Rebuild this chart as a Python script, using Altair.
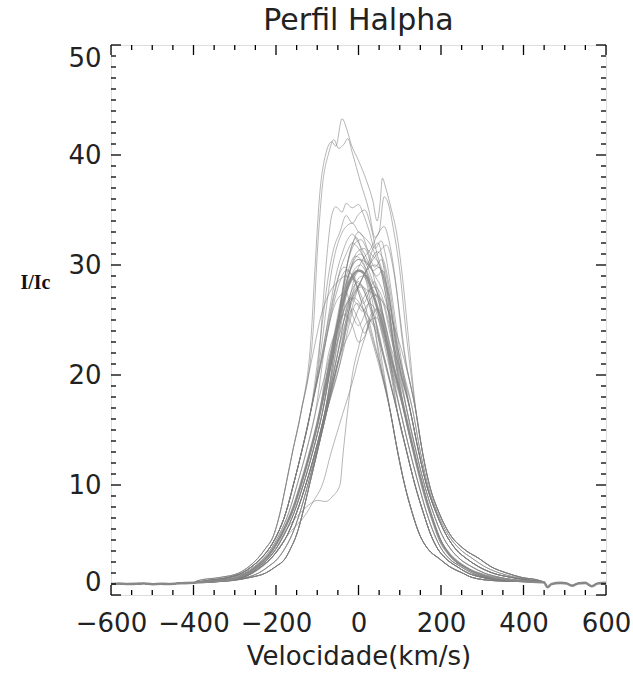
import altair as alt
import pandas as pd

# ---------------- data ----------------
# intensity levels at which each profile flank was read (I/Ic)
LEVELS = [1.3, 1.6, 2.0, 2.6, 3.3, 4.2, 5.5, 7.5, 10, 13, 16.5]

# left-flank velocities (km/s) where profiles cross LEVELS
LEFT_A = [-390, -335, -290, -265, -245, -226, -205, -190, -176, -160, -140]
LEFT_B = [-370, -315, -282, -258, -237, -217, -197, -176, -158, -138, -117]
LEFT_BC = [-355, -305, -276, -252, -231, -212, -192, -169, -149, -127, -105]
LEFT_C = [-340, -293, -270, -247, -226, -207, -187, -162, -140, -117, -94]
LEFT_CD = [-335, -287, -264, -241, -219, -200, -180, -156, -134, -111, -88]
LEFT_D = [-330, -280, -258, -235, -213, -193, -172, -150, -128, -105, -82]
LEFT_DE = [-320, -271, -242, -218, -196, -179, -161, -142, -123, -102, -80]
LEFT_E = [-310, -262, -225, -200, -178, -165, -150, -135, -119, -100, -78]
LEFT_S1 = [-330, -285, -262, -238, -218, -200, -182, -140, -45, -37, -27]
LEFT_S2 = [-325, -280, -255, -232, -212, -195, -170, -125, -88, -66, -38]

# right-flank velocities (km/s) where profiles cross LEVELS
RIGHT_A = [440, 395, 359, 320, 293, 255, 222, 195, 172, 155, 140]
RIGHT_AB = [430, 382, 342, 305, 277, 245, 217, 191, 168, 150, 133]
RIGHT_B = [420, 370, 325, 290, 262, 235, 212, 188, 165, 146, 127]
RIGHT_BC = [398, 343, 305, 273, 245, 223, 202, 181, 160, 140, 119]
RIGHT_C = [375, 317, 285, 256, 228, 211, 193, 174, 155, 134, 112]
RIGHT_CD = [368, 308, 275, 247, 220, 201, 184, 165, 146, 125, 103]
RIGHT_D = [360, 300, 265, 238, 212, 192, 175, 157, 137, 117, 95]
RIGHT_E = [330, 275, 252, 220, 196, 168, 148, 130, 112, 95, 78]

# common continuum wings
WING_L_V = [-600, -580, -560, -540, -520, -500, -480, -460, -440, -420, -400]
WING_L_Y = [1.0, 1.04, 1.0, 1.02, 1.05, 0.98, 1.02, 1.0, 1.05, 1.08, 1.12]
WING_R_V = [450, 458, 468, 490, 505, 518, 532, 550, 565, 580, 600]
WING_R_Y = [1.15, 0.7, 1.0, 1.1, 1.05, 0.85, 1.05, 1.1, 0.8, 1.05, 1.1]

# profile tops (velocity, I/Ic)
TOP_01 = [(-114, 24), (-105, 30), (-95, 36), (-80, 40), (-65, 41.2), (-55, 40.8), (-40, 43.3), (-28, 42.3),
          (-18, 41), (0, 39.5), (20, 37.6), (35, 35.8), (45, 34), (52, 35.5), (58, 37.9), (66, 37),
          (80, 35), (92, 33), (108, 28.4), (120, 23.8)]
TOP_02 = [(-110, 24), (-100, 31), (-88, 37), (-72, 40.2), (-60, 41.4), (-48, 40.6), (-35, 41), (-26, 41.5),
          (-15, 40.2), (5, 37.5), (25, 35), (40, 32.5), (50, 33), (62, 36.2), (72, 35.6), (85, 33.2),
          (100, 29.5), (115, 24)]
TOP_03 = [(-95, 22), (-85, 27), (-75, 31.5), (-65, 34.5), (-55, 35.3), (-40, 34.8), (-30, 35.6), (-15, 35.2),
          (0, 35.5), (12, 34.6), (25, 33.2), (40, 31.5), (55, 32.2), (65, 31), (80, 27.5), (95, 23.5)]
TOP_04 = [(-90, 24), (-75, 28.5), (-60, 31.5), (-45, 33), (-30, 34.5), (-15, 33.8), (0, 34.6), (15, 35),
          (30, 33.5), (45, 31), (60, 29.2), (75, 27), (90, 23.5)]
TOP_05 = [(-70, 21.5), (-50, 25), (-30, 27.5), (-10, 29), (10, 30.5), (30, 31.5), (50, 33), (62, 33.5),
          (75, 32), (90, 28.5), (105, 23.5)]
TOP_06 = [(-55, 23), (-40, 27), (-25, 30.5), (-12, 32.2), (0, 33), (12, 32.5), (25, 31), (40, 29.8),
          (55, 30.5), (70, 28.5), (85, 24.5)]
TOP_07 = [(-60, 22.5), (-45, 26), (-30, 29.5), (-18, 31.5), (-5, 32.5), (8, 31.2), (20, 30), (35, 31.5),
          (48, 32), (60, 30), (75, 26), (85, 22.5)]
TOP_08 = [(-80, 23), (-60, 27), (-45, 29.5), (-30, 31), (-15, 32), (0, 31.5), (15, 30.5), (30, 29),
          (45, 27.5), (60, 26.5), (75, 24), (90, 21.5)]
TOP_09 = [(-45, 24.5), (-30, 27.8), (-15, 30.2), (0, 31.3), (15, 31.5), (30, 30), (45, 27.5), (60, 24.5)]
TOP_10 = [(-55, 23.5), (-40, 26.5), (-25, 29), (-10, 30.5), (5, 31), (20, 30.3), (35, 29.5), (50, 29.8),
          (65, 27.5), (80, 23.5)]
TOP_11 = [(-55, 24), (-35, 27.5), (-15, 30), (0, 30.5), (15, 29.8), (35, 27.5), (55, 24.5), (70, 22)]
TOP_12 = [(-45, 24), (-25, 28), (-10, 29.6), (5, 30), (20, 29.2), (35, 27.8), (50, 26.5), (65, 24),
          (80, 21.5)]
TOP_13 = [(-40, 22.5), (-20, 25.5), (0, 28), (20, 29.5), (40, 30), (55, 29.5), (70, 27), (85, 23)]
TOP_14 = [(-80, 23), (-60, 26.5), (-45, 28.5), (-30, 29.5), (-15, 29), (0, 27.5), (15, 25.5), (30, 23.5),
          (45, 21.5)]
TOP_15 = [(-35, 23.5), (-20, 26.5), (-5, 28.5), (10, 29), (25, 28), (40, 25.5), (52, 22.5)]
TOP_16 = [(-55, 23.5), (-40, 26), (-25, 28.5), (-12, 29), (0, 27.5), (12, 26.5), (25, 27.5), (38, 28.5),
          (52, 27), (65, 24), (78, 21)]
TOP_17 = [(-45, 23), (-30, 26), (-15, 27.8), (0, 28.5), (15, 27.5), (30, 26), (45, 24.5), (60, 22)]
TOP_18 = [(-40, 22), (-25, 25.5), (-10, 27.5), (5, 28), (20, 27), (35, 25), (50, 22)]
TOP_19 = [(-48, 21.5), (-20, 24), (0, 26), (20, 27.5), (40, 28), (58, 27), (75, 24.5), (90, 22)]
TOP_20 = [(-82, 22.5), (-65, 25.5), (-45, 27.2), (-30, 27.5), (-15, 25.5), (0, 24.5), (15, 25.5), (30, 27),
          (45, 27.3), (60, 25.5), (75, 23), (90, 21)]
TOP_21 = [(-55, 23), (-38, 25.5), (-20, 27), (-5, 26.5), (10, 25.8), (25, 26.5), (40, 26), (55, 24),
          (70, 21.5)]
TOP_22 = [(-35, 22.5), (-20, 25), (-5, 26.5), (10, 26), (25, 24.5), (40, 22.5), (52, 21)]
TOP_23 = [(-45, 22), (-30, 24.5), (-15, 26), (0, 25), (15, 23.8), (30, 25.5), (45, 26), (60, 24.5),
          (72, 22)]
TOP_24 = [(-75, 21.5), (-55, 24), (-35, 25.5), (-15, 24.5), (0, 23), (15, 23.5), (30, 25), (45, 25.2),
          (60, 23.5), (75, 21.5)]
TOP_25 = [(-120, 8.2), (-100, 8.6), (-80, 8.5), (-62, 9.0), (-15, 20), (0, 22.5), (15, 24.5), (30, 25),
          (45, 24), (60, 22)]
TOP_26 = [(-108, 8.6), (-10, 20), (0, 21.5), (19, 23.8), (35, 25.5), (50, 26), (65, 24.5), (80, 22)]
TOP_27 = [(-60, 23), (-40, 27), (-20, 29.5), (0, 30.5), (20, 30.2), (40, 29), (60, 27.5), (80, 24.5),
          (95, 21.5)]
TOP_28 = [(-35, 24), (-20, 27.2), (-5, 29.2), (8, 29.5), (22, 28), (38, 24.5), (50, 21.5)]
TOP_29 = [(-85, 22.5), (-70, 26), (-55, 29), (-40, 31), (-28, 32.2), (-15, 32.8), (0, 32), (15, 31),
          (30, 29.8), (45, 29), (58, 29.5), (72, 27.5), (88, 23.5)]
TOP_30 = [(-55, 22.5), (-35, 25), (-15, 27), (5, 28.5), (25, 30), (45, 31.2), (60, 30.5), (75, 28),
          (90, 24), (100, 21.5)]
TOP_31 = [(-60, 23.5), (-42, 27), (-25, 29.5), (-8, 30.8), (10, 30.3), (28, 28.8), (45, 27.5), (62, 25),
          (78, 22)]
TOP_32 = [(-88, 22), (-70, 25.5), (-52, 28.5), (-35, 29.8), (-18, 29.2), (0, 27.8), (18, 26), (35, 23.5),
          (48, 21.5)]
TOP_33 = [(-52, 24), (-38, 28), (-22, 30.8), (-8, 32), (6, 32.3), (20, 31.5), (35, 30.8), (50, 30),
          (65, 27.5), (80, 24)]
TOP_34 = [(-48, 22.5), (-30, 25.8), (-12, 27.6), (5, 28.2), (22, 27.2), (40, 25), (58, 22)]
TOP_35 = [(-50, 22), (-30, 25), (-10, 27.2), (10, 28.8), (30, 30.2), (50, 31.2), (68, 31.8), (85, 29.5),
          (100, 25.5), (112, 22)]
TOP_36 = [(-62, 22), (-45, 24.8), (-28, 26.5), (-10, 27), (8, 26.2), (25, 25.2), (42, 24), (58, 22)]
TOP_37 = [(-90, 22.5), (-75, 27), (-60, 30.5), (-45, 32.5), (-30, 33.5), (-15, 33.8), (0, 33), (15, 32.5),
          (30, 31.8), (45, 30.5), (60, 29), (75, 26.5), (92, 22.5)]
TOP_38 = [(-110, 22), (-90, 25.5), (-70, 27.5), (-50, 28.5), (-30, 29), (-10, 28.6), (10, 28), (30, 27.5),
          (50, 27), (70, 26), (90, 24), (110, 21.5)]

PROFILES = [
    ("p01", LEFT_A, TOP_01, RIGHT_A), ("p02", LEFT_A, TOP_02, RIGHT_A),
    ("p03", LEFT_B, TOP_03, RIGHT_B), ("p04", LEFT_B, TOP_04, RIGHT_B),
    ("p05", LEFT_C, TOP_05, RIGHT_A), ("p06", LEFT_D, TOP_06, RIGHT_AB),
    ("p07", LEFT_C, TOP_07, RIGHT_C), ("p08", LEFT_BC, TOP_08, RIGHT_C),
    ("p09", LEFT_D, TOP_09, RIGHT_D), ("p10", LEFT_CD, TOP_10, RIGHT_BC),
    ("p11", LEFT_C, TOP_11, RIGHT_CD), ("p12", LEFT_D, TOP_12, RIGHT_C),
    ("p13", LEFT_D, TOP_13, RIGHT_B), ("p14", LEFT_B, TOP_14, RIGHT_E),
    ("p15", LEFT_E, TOP_15, RIGHT_E), ("p16", LEFT_CD, TOP_16, RIGHT_D),
    ("p17", LEFT_DE, TOP_17, RIGHT_D), ("p18", LEFT_E, TOP_18, RIGHT_E),
    ("p19", LEFT_E, TOP_19, RIGHT_B), ("p20", LEFT_B, TOP_20, RIGHT_C),
    ("p21", LEFT_CD, TOP_21, RIGHT_CD), ("p22", LEFT_E, TOP_22, RIGHT_E),
    ("p23", LEFT_DE, TOP_23, RIGHT_C), ("p24", LEFT_C, TOP_24, RIGHT_CD),
    ("p25", LEFT_S1, TOP_25, RIGHT_D), ("p26", LEFT_S2, TOP_26, RIGHT_C),
    ("p27", LEFT_C, TOP_27, RIGHT_B), ("p28", LEFT_E, TOP_28, RIGHT_E),
    ("p29", LEFT_B, TOP_29, RIGHT_BC), ("p30", LEFT_C, TOP_30, RIGHT_AB),
    ("p31", LEFT_BC, TOP_31, RIGHT_C), ("p32", LEFT_B, TOP_32, RIGHT_E),
    ("p33", LEFT_D, TOP_33, RIGHT_BC), ("p34", LEFT_DE, TOP_34, RIGHT_D),
    ("p35", LEFT_D, TOP_35, RIGHT_A), ("p36", LEFT_CD, TOP_36, RIGHT_D),
    ("p37", LEFT_B, TOP_37, RIGHT_B), ("p38", LEFT_A, TOP_38, RIGHT_A),
]

# thick mean profile
MEAN_V = [-350, -300, -280, -260, -240, -220, -200, -180, -160, -140, -120, -100, -80, -60, -40, -20, 0,
          20, 40, 60, 80, 100, 120, 140, 160, 180, 200, 220, 240, 260, 280, 300, 350, 400]
MEAN_Y = [1.25, 1.5, 1.8, 2.2, 2.8, 3.5, 4.6, 6.0, 7.7, 10.0, 12.6, 15.5, 19.1, 22.8, 26.2, 28.6, 29.5,
          28.9, 26.8, 24.2, 21.3, 18.5, 15.3, 12.1, 9.2, 6.8, 4.8, 3.7, 3.0, 2.5, 2.1, 1.85, 1.45, 1.25]

# axis ticks
X_MAJOR = [-600, -400, -200, 0, 200, 400, 600]
X_MINOR = [v for v in range(-600, 601, 50) if v % 200 != 0]
Y_MAJOR = [0, 10, 20, 30, 40, 50]
Y_MINOR = [v for v in range(0, 51) if v % 10 != 0]

# ---------------- build tables ----------------
rows = []
for name, left, top, right in PROFILES:
    pts = list(zip(WING_L_V, WING_L_Y)) + list(zip(left, LEVELS)) + list(top) \
        + list(zip(right, LEVELS)) + list(zip(WING_R_V, WING_R_Y))
    for v, y in sorted(pts):
        rows.append({"profile": name, "v": v, "y": y})
df = pd.DataFrame(rows)

mean_pts = list(zip(WING_L_V, WING_L_Y)) + list(zip(MEAN_V, MEAN_Y)) + list(zip(WING_R_V, WING_R_Y))
mean_df = pd.DataFrame(sorted(mean_pts), columns=["v", "y"])

W, H = 495, 550
FONT = "DejaVu Sans"

xscale = alt.Scale(domain=[-600, 600], nice=False, zero=False)
yscale = alt.Scale(domain=[0, 50], nice=False, zero=False)

X_AXIS = alt.Axis(
    values=X_MAJOR, ticks=False, domain=False, grid=False, labelFont=FONT,
    labelFontSize=26, labelColor="#222", labelPadding=15, labelFlush=False,
    title="Velocidade(km/s)", titleFont=FONT, titleFontSize=26,
    titleFontWeight="normal", titleColor="#222", titleBaseline="middle",
    titleY=61, titleX=W / 2)
Y_AXIS = alt.Axis(
    values=Y_MAJOR, ticks=False, domain=False, grid=False, labelFont=FONT,
    labelFontSize=26, labelColor="#222", labelPadding=10, labelFlush=True,
    title="I/Ic", titleFont="Liberation Serif", titleFontSize=20,
    titleFontWeight="bold", titleColor="#111", titleAngle=0, titleAlign="center",
    titleBaseline="middle", titleX=-76, titleY=237)

XENC = alt.X("v:Q", scale=xscale, axis=X_AXIS, title="Velocidade(km/s)")
YENC = alt.Y("y:Q", scale=yscale, axis=Y_AXIS, title="I/Ic")

lines = alt.Chart(df).mark_line(
    color="#7a7a7a", strokeWidth=1, opacity=0.55, interpolate="monotone"
).encode(x=XENC, y=YENC, detail="profile:N")

mean_line = alt.Chart(mean_df).mark_line(
    color="#8a8a8a", strokeWidth=2.6, opacity=0.9, interpolate="monotone"
).encode(x=XENC, y=YENC)


def xticks(vals, y0, y1):
    return alt.Chart(pd.DataFrame({"v": vals})).mark_rule(color="black", strokeWidth=1.3).encode(
        x=XENC, y=alt.value(y0), y2=alt.value(y1))


def yticks(vals, x0, x1):
    return alt.Chart(pd.DataFrame({"y": vals})).mark_rule(color="black", strokeWidth=1.3).encode(
        y=YENC, x=alt.value(x0), x2=alt.value(x1))


ticks = [
    xticks(X_MAJOR, H, H - 10), xticks(X_MINOR, H, H - 5),
    xticks(X_MAJOR, 0, 10), xticks(X_MINOR, 0, 5),
    yticks(Y_MAJOR, 0, 10), yticks(Y_MINOR, 0, 5),
    yticks(Y_MAJOR, W, W - 10), yticks(Y_MINOR, W, W - 5),
]

chart = alt.layer(lines, mean_line, *ticks).properties(
    width=W, height=H,
    autosize="none",
    padding={"left": 111, "top": 45, "right": 27, "bottom": 80},
    title=alt.TitleParams("Perfil Halpha", font=FONT, fontSize=30, fontWeight="normal",
                          color="#222", anchor="middle", offset=8),
).configure_view(stroke="black", strokeWidth=1.5).configure(background="white")

chart.save("out.html", embed_options={"renderer": "svg", "actions": False})
